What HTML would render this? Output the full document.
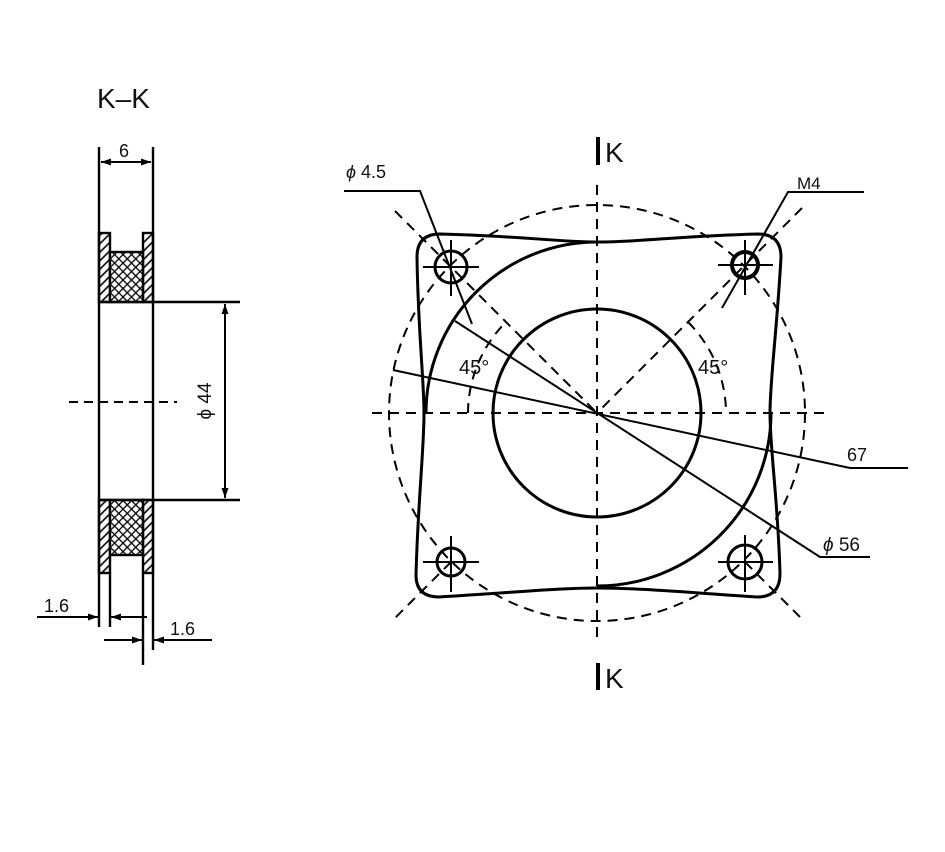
<!DOCTYPE html>
<html><head><meta charset="utf-8"><style>
html,body{margin:0;padding:0;background:#fff}
svg{display:block}
text{font-family:"Liberation Sans",Arial,sans-serif;fill:#111}
</style></head><body>
<svg width="945" height="852" viewBox="0 0 945 852" xmlns="http://www.w3.org/2000/svg">
<defs>
<pattern id="hatch" width="6" height="6" patternUnits="userSpaceOnUse" patternTransform="rotate(-45)">
<line x1="0" y1="3" x2="6" y2="3" stroke="#000" stroke-width="1.6"/></pattern>
<pattern id="cross" width="6" height="6" patternUnits="userSpaceOnUse" patternTransform="rotate(45)">
<rect width="6" height="6" fill="#fff"/>
<line x1="0" y1="3" x2="6" y2="3" stroke="#000" stroke-width="1.3"/>
<line x1="3" y1="0" x2="3" y2="6" stroke="#000" stroke-width="1.3"/></pattern>
<marker id="ar" viewBox="0 0 10 10" refX="10" refY="5" markerWidth="10" markerHeight="10" orient="auto-start-reverse" markerUnits="userSpaceOnUse"><path d="M0,1.5 L10,5 L0,8.5 Z" fill="#000"/></marker>
</defs>
<rect width="945" height="852" fill="#fff"/>

<!-- LEFT SECTION -->
<text x="97" y="108" font-size="28">K–K</text>
<g stroke="#000" stroke-width="2.4" fill="none">
<line x1="99" y1="147" x2="99" y2="627"/>
<line x1="153" y1="147" x2="153" y2="650"/>
<line x1="110" y1="573" x2="110" y2="627"/>
<line x1="143" y1="573" x2="143" y2="665"/>
<rect x="99" y="233" width="11" height="69" fill="url(#hatch)"/>
<rect x="143" y="233" width="10" height="69" fill="url(#hatch)"/>
<rect x="110" y="252" width="33" height="50" fill="url(#cross)"/>
<rect x="99" y="500" width="11" height="73" fill="url(#hatch)"/>
<rect x="143" y="500" width="10" height="73" fill="url(#hatch)"/>
<rect x="110" y="500" width="33" height="55" fill="url(#cross)"/>
<line x1="99" y1="302" x2="240" y2="302"/>
<line x1="99" y1="500" x2="240" y2="500"/>
<line x1="101" y1="162" x2="151" y2="162" stroke-width="2" marker-start="url(#ar)" marker-end="url(#ar)"/>
<line x1="225" y1="304" x2="225" y2="498" stroke-width="2" marker-start="url(#ar)" marker-end="url(#ar)"/>
<line x1="69" y1="402" x2="177" y2="402" stroke-width="2" stroke-dasharray="9,6"/>
<line x1="37" y1="617" x2="98" y2="617" stroke-width="2" marker-end="url(#ar)"/>
<line x1="147" y1="617" x2="111" y2="617" stroke-width="2" marker-end="url(#ar)"/>
<line x1="104" y1="640" x2="142" y2="640" stroke-width="2" marker-end="url(#ar)"/>
<line x1="212" y1="640" x2="154" y2="640" stroke-width="2" marker-end="url(#ar)"/>
</g>
<text x="119" y="157" font-size="18">6</text>
<text transform="translate(211,401) rotate(-90)" font-size="19" text-anchor="middle">ϕ 44</text>
<text x="44" y="612" font-size="18">1.6</text>
<text x="170" y="635" font-size="18">1.6</text>

<!-- RIGHT VIEW -->
<g stroke="#000" fill="none">
<g stroke-width="2" stroke-dasharray="10,7">
<line x1="372" y1="413" x2="825" y2="413"/>
<line x1="597" y1="185" x2="597" y2="640"/>
<circle cx="597" cy="413" r="208"/>
<line x1="395" y1="211" x2="597" y2="413"/>
<line x1="802" y1="208" x2="597" y2="413"/>
<path d="M468 413 A129 129 0 0 1 506 322"/>
<path d="M688 322 A129 129 0 0 1 726 413"/>
<line x1="451" y1="562" x2="395" y2="618"/>
<line x1="745" y1="562" x2="800" y2="617"/>
</g>
<path stroke-width="3" d="M440 234 C520 236 560 242 597 242 C640 242 680 236 758 234 Q781 234 781 257 C777 330 770 380 770 413 C770 450 778 500 780 574 Q780 597 757 597 C680 592 640 588 597 588 C560 588 520 592 439 597 Q416 597 416 575 C418 500 424 450 424 413 C424 380 418 330 417 257 Q417 234 440 234 Z"/>
<path stroke-width="3" d="M597 242 A171 171 0 0 0 426 413"/>
<path stroke-width="3" d="M597 586 A174 173 0 0 0 771 413"/>
<circle cx="597" cy="413" r="104" stroke-width="3"/>
<circle cx="451" cy="267" r="16" stroke-width="3"/>
<circle cx="745" cy="265" r="13" stroke-width="4"/>
<circle cx="451" cy="562" r="14" stroke-width="3"/>
<circle cx="745" cy="562" r="17" stroke-width="3"/>
<g stroke-width="2">
<line x1="423" y1="267" x2="479" y2="267"/><line x1="451" y1="240" x2="451" y2="296"/>
<line x1="718" y1="265" x2="773" y2="265"/><line x1="745" y1="240" x2="745" y2="295"/>
<line x1="423" y1="562" x2="479" y2="562"/><line x1="451" y1="536" x2="451" y2="592"/>
<line x1="718" y1="562" x2="773" y2="562"/><line x1="745" y1="535" x2="745" y2="592"/>
<polyline points="344,191 420,191 472,324"/>
<polyline points="864,192 788,192 722,308"/>
<polyline points="393,370 850,468 908,468"/>
<polyline points="455,321 820,557 870,557"/>
</g>
<line x1="598" y1="137" x2="598" y2="165" stroke-width="4"/>
<line x1="598" y1="663" x2="598" y2="690" stroke-width="4"/>
</g>
<text x="605" y="162" font-size="28">K</text>
<text x="605" y="688" font-size="28">K</text>
<text x="346" y="178" font-size="18"><tspan font-style="italic">ϕ</tspan> 4.5</text>
<text x="797" y="189" font-size="17">M4</text>
<text x="459" y="374" font-size="20">45°</text>
<text x="698" y="374" font-size="20">45°</text>
<text x="847" y="461" font-size="18">67</text>
<text x="823" y="551" font-size="19"><tspan font-style="italic">ϕ</tspan> 56</text>
</svg>
</body></html>
